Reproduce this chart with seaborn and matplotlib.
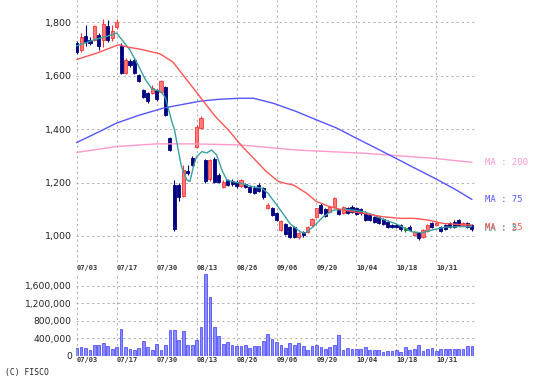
import pandas as pd
import matplotlib
matplotlib.use("Agg")
import matplotlib.pyplot as plt
from matplotlib.ticker import FuncFormatter
import seaborn as sns

# trading days 07/03 .. 11/13, ticks every 9 sessions
date_labels = ["07/03", "07/17", "07/30", "08/13", "08/26", "09/06", "09/20", "10/04", "10/18", "10/31"]
label_days = [0, 9, 18, 27, 36, 45, 54, 63, 72, 81]

opens = [1722, 1697, 1750, 1735, 1735, 1754, 1735, 1785, 1742, 1782,
         1710, 1610, 1655, 1660, 1604, 1547, 1535, 1535, 1547, 1541,
         1557, 1367, 1191, 1191, 1150, 1245, 1292, 1335, 1405, 1285,
         1212, 1290, 1229, 1185, 1210, 1206, 1204, 1186, 1196, 1184,
         1180, 1190, 1180, 1106, 1105, 1086, 1022, 1045, 1032, 1033,
         997, 1016, 1016, 1041, 1072, 1116, 1100, 1091, 1110, 1097,
         1087, 1105, 1110, 1105, 1101, 1087, 1079, 1072, 1072, 1064,
         1054, 1041, 1041, 1041, 1026, 1035, 1004, 1012, 997, 1020,
         1049, 1041, 1034, 1041, 1049, 1054, 1060, 1041, 1049, 1041]
closes = [1691, 1747, 1725, 1722, 1785, 1710, 1795, 1735, 1767, 1801,
          1610, 1660, 1640, 1612, 1579, 1522, 1507, 1554, 1512, 1579,
          1454, 1322, 1025, 1147, 1247, 1236, 1266, 1410, 1442, 1205,
          1285, 1204, 1204, 1203, 1191, 1195, 1186, 1210, 1185, 1166,
          1162, 1170, 1147, 1116, 1079, 1060, 1056, 1008, 997, 997,
          1011, 1002, 1034, 1065, 1103, 1086, 1076, 1110, 1142, 1082,
          1110, 1086, 1091, 1082, 1086, 1060, 1060, 1054, 1049, 1045,
          1035, 1035, 1032, 1026, 1026, 1022, 1016, 991, 1022, 1041,
          1034, 1049, 1020, 1026, 1034, 1035, 1041, 1049, 1035, 1026]
highs = [1732, 1760, 1790, 1745, 1792, 1760, 1812, 1810, 1790, 1812,
         1722, 1665, 1662, 1665, 1608, 1552, 1540, 1565, 1552, 1585,
         1560, 1372, 1210, 1200, 1266, 1266, 1300, 1415, 1450, 1290,
         1290, 1295, 1235, 1208, 1215, 1212, 1210, 1214, 1200, 1190,
         1186, 1200, 1184, 1125, 1110, 1090, 1060, 1049, 1036, 1036,
         1015, 1020, 1038, 1068, 1106, 1122, 1104, 1114, 1146, 1102,
         1114, 1110, 1115, 1108, 1105, 1092, 1084, 1076, 1076, 1068,
         1058, 1046, 1046, 1045, 1035, 1040, 1020, 1016, 1026, 1046,
         1054, 1054, 1038, 1046, 1054, 1058, 1064, 1054, 1054, 1046]
lows = [1682, 1690, 1712, 1715, 1730, 1695, 1707, 1728, 1730, 1775,
        1605, 1605, 1632, 1605, 1575, 1518, 1500, 1530, 1505, 1535,
        1448, 1318, 1020, 1130, 1145, 1228, 1262, 1330, 1400, 1200,
        1205, 1200, 1198, 1180, 1186, 1188, 1180, 1182, 1180, 1162,
        1158, 1165, 1140, 1100, 1075, 1055, 1018, 1004, 994, 994,
        988, 998, 1012, 1038, 1068, 1082, 1072, 1088, 1106, 1078,
        1084, 1082, 1086, 1078, 1080, 1056, 1056, 1050, 1045, 1040,
        1030, 1030, 1028, 1020, 1016, 1018, 1000, 986, 994, 1016,
        1030, 1036, 1016, 1022, 1030, 1030, 1036, 1036, 1030, 1020]

volume = [170, 190, 180, 120, 250, 250, 290, 220, 150, 190,
          620, 190, 160, 130, 180, 330, 190, 140, 270, 140,
          250, 600, 600, 350, 560, 250, 250, 360, 660, 1860,
          1350, 660, 450, 270, 310, 240, 230, 215, 255, 180,
          230, 225, 330, 490, 380, 320, 240, 180, 290, 255,
          290, 215, 140, 215, 255, 195, 150, 195, 240, 465,
          140, 170, 155, 160, 155, 195, 125, 125, 125, 80,
          110, 110, 125, 85, 210, 125, 150, 240, 115, 150,
          180, 110, 150, 150, 150, 150, 160, 150, 215, 215]  # thousands

ma5_x = [0, 4, 8, 9, 12, 14, 15.5, 17, 19, 20, 21.5, 22, 23, 23.6, 24.8, 25.5, 26.3, 27, 28.2,
         29.3, 30.4, 31.5, 32.7, 33.8, 35, 37, 39.4, 41.7, 43, 44.7, 46.2, 48, 50.3, 51.4,
         53.3, 55.5, 57.8, 60, 62.3, 64.5, 66.8, 69, 72, 73.2, 75.4, 77.7, 80.7, 83, 86, 89]
ma5_y = [1712, 1735, 1754, 1760, 1697, 1635, 1585, 1550, 1541, 1517, 1424, 1400, 1311, 1260, 1210,
         1204, 1260, 1297, 1316, 1311, 1322, 1304, 1247, 1210, 1204, 1197, 1185, 1179, 1161,
         1124, 1090, 1047, 1016, 1010, 1035, 1072, 1097, 1100, 1097, 1091, 1079, 1062, 1045,
         1035, 1016, 1012, 1025, 1033, 1035, 1035]

ma25_x = [0, 4.5, 9.4, 12, 14.3, 18.8, 21.7, 24.8, 28.3, 31.1, 34.1, 37.3, 40.2, 42.6, 45.4,
          47, 48.8, 51.8, 54, 57, 60, 64.5, 69, 73, 76, 79, 82.5, 86, 89]
ma25_y = [1661, 1685, 1716, 1706, 1700, 1682, 1651, 1585, 1510, 1450, 1398, 1335, 1285, 1243,
          1204, 1197, 1191, 1160, 1129, 1110, 1097, 1085, 1072, 1066, 1066, 1060, 1047, 1043, 1041]

ma75_x = [0, 5, 9, 14, 19.5, 23.3, 27.8, 32, 36.8, 39.8, 44.3, 49.5, 54, 58.6, 63, 68, 72.8,
          75, 80.3, 85, 89]
ma75_y = [1350, 1390, 1423, 1452, 1479, 1491, 1505, 1512, 1516, 1516, 1497, 1466, 1435, 1404,
          1366, 1324, 1283, 1264, 1219, 1177, 1137]

ma200_x = [0, 9, 18, 26.3, 36.8, 49.5, 64.6, 72.8, 80.3, 89]
ma200_y = [1313, 1335, 1345, 1345, 1341, 1322, 1310, 1300, 1291, 1276]

sns.set_style("white")
plt.rcParams["font.family"] = ["DejaVu Sans"]

W, H = 538, 386
fig = plt.figure(figsize=(W / 100, H / 100), dpi=100)
ax = fig.add_axes([76 / W, 1 - 262 / H, 401 / W, 262 / H])
axv = fig.add_axes([76 / W, 1 - 355.7 / H, 401 / W, (355.7 - 273) / H])

df = pd.DataFrame({"day": range(len(opens)), "open": opens, "close": closes,
                   "high": highs, "low": lows, "volume": [v * 1000 for v in volume]})

grid_kw = dict(color="#b0b0b0", linestyle=(0, (2, 3)), linewidth=0.75)
mono = "DejaVu Sans Mono"

# candles
groups = [
    (df[df.close > df.open], "#ff7a7a", "#ff3333"),
    (df[df.close < df.open], "#000080", "#000080"),
    (df[df.close == df.open], "#008000", "#008000"),
]
for g, fill, edge in groups:
    ax.vlines(g.day, g.low, g.high, color=edge, lw=0.8, zorder=3)
    body = (g.close - g.open).abs().clip(lower=5)
    bottom = g[["open", "close"]].min(axis=1) - (body - (g.close - g.open).abs()) / 2
    ax.bar(g.day, body, bottom=bottom, width=0.7, color=fill, edgecolor=edge,
           linewidth=0.6, zorder=4)

# moving averages
ma_specs = [
    (ma200_x, ma200_y, "#ff99cc", "MA : 200"),
    (ma75_x, ma75_y, "#5555ff", "MA : 75"),
    (ma5_x, ma5_y, "#3aa0a0", "MA : 5"),
    (ma25_x, ma25_y, "#ff5555", "MA : 25"),
]
for xs, ys, col, lab in ma_specs:
    sns.lineplot(x=xs, y=ys, ax=ax, color=col, lw=1.0, estimator=None, sort=False, zorder=5)
    ax.text(92, ys[-1] - (8 if lab in ("MA : 5", "MA : 25") else 0), lab, color=col,
            fontfamily=mono, fontsize=6.4, va="center", ha="left", clip_on=False)

ax.set_xlim(-0.15, 90.15)
ax.set_ylim(902.5, 1884)
ax.set_yticks([1000, 1200, 1400, 1600, 1800])
ax.yaxis.set_major_formatter(FuncFormatter(lambda v, p: f"{v:,.0f}"))
ax.set_xticks(label_days)
ax.set_xticklabels(date_labels, ha="left", fontfamily=mono, fontsize=5,
                   fontweight="bold", color="#333333")
ax.tick_params(axis="x", length=0, pad=2.4)
ax.tick_params(axis="y", length=0, pad=3, labelsize=6.8, labelcolor="#222222")
ax.grid(True, **grid_kw)
ax.set_axisbelow(True)
ax.set_xlabel("")
ax.set_ylabel("")

# volume
sns.barplot(x=df.day, y=df.volume, ax=axv, native_scale=True, width=0.62,
            color="#8c8cff", edgecolor="#3b3bff", linewidth=0.5, saturation=1, zorder=3)
axv.set_xlim(-0.15, 90.15)
axv.set_ylim(0, 1894000)
axv.set_yticks([0, 400000, 800000, 1200000, 1600000])
axv.yaxis.set_major_formatter(FuncFormatter(lambda v, p: f"{v:,.0f}"))
axv.set_xticks(label_days)
axv.set_xticklabels(date_labels, ha="left", fontfamily=mono, fontsize=5,
                    fontweight="bold", color="#333333")
axv.tick_params(axis="x", length=0, pad=1.2)
axv.tick_params(axis="y", length=0, pad=3, labelsize=6.6, labelcolor="#222222")
axv.grid(True, **grid_kw)
axv.get_ygridlines()[0].set_visible(False)
axv.set_axisbelow(True)
axv.set_xlabel("")
axv.set_ylabel("")

for a in (ax, axv):
    for s in a.spines.values():
        s.set_visible(False)

fig.text(5 / W, 1 - 373 / H, "(C) FISCO", fontfamily=mono, fontsize=5.8,
         color="#222222", va="center", ha="left")

fig.savefig("out.png", dpi=100)
